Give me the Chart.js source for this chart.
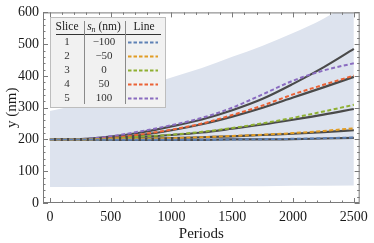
<!DOCTYPE html>
<html><head><meta charset="utf-8">
<script src="https://cdn.jsdelivr.net/npm/chart.js@4.4.1/dist/chart.umd.min.js"></script>
<style>html,body{margin:0;padding:0;background:#fff}canvas{display:block}</style>
</head><body>
<canvas id="c" width="374" height="243"></canvas>
<script>
// ---- data ----
const periods = [0,250,500,750,1000,1250,1500,1750,2000,2250,2500];
const bandLower = [50,50,51,51,52,52,53,53,54,54,55];
const bandUpper = [290,310,335,365,395,425,460,495,535,580,640];
const slices = [1,2,3,4,5];
const snValues = [-100,-50,0,50,100];
const sim1 = [200,200,199,199,199,199,200,201,202,204,206];
const sim2 = [200,200,201,202,204,207,211,215,220,227,235];
const sim3 = [200,200,202,209,215,224,236,251,268,288,309];
const sim4 = [200,200,204,216,231,250,277,307,342,372,401];
const sim5 = [200,201,210,226,245,268,300,342,385,417,440];
const theo1 = [200,200,199,199,199,199,200,200,201,203,205];
const theo2 = [200,200,201,202,204,207,210,214,218,223,229];
const theo3 = [200,200,202,208,214,222,234,247,262,278,296];
const theo4 = [200,200,204,214,229,248,272,300,332,364,397];
const theo5 = [200,201,209,222,241,263,292,328,375,427,485];
const xTicks = [0,500,1000,1500,2000,2500];
const yTicks = [0,100,200,300,400,500,600];
const xMinor = 100, yMinor = 20;

const sims = [sim1,sim2,sim3,sim4,sim5];
const theos = [theo1,theo2,theo3,theo4,theo5];
const colors = ['#5E81B5','#E19C24','#8FB032','#EB6235','#8A6CC0'];
const pts = arr => periods.map((p,i)=>({x:p,y:arr[i]}));

const datasets = [
  {data:pts(bandLower), borderWidth:0, pointRadius:0, fill:false, order:20},
  {data:pts(bandUpper), borderWidth:0, pointRadius:0, fill:'-1', backgroundColor:'rgb(221,227,238)', cubicInterpolationMode:'monotone', order:20}
];
theos.forEach(t=>datasets.push({data:pts(t), borderColor:'#4a4a4a', borderWidth:2.2, pointRadius:0, fill:false, cubicInterpolationMode:'monotone', order:10}));
sims.forEach((s,i)=>datasets.push({data:pts(s), borderColor:colors[i], borderWidth:2, borderDash:[4,2.5], pointRadius:0, fill:false, cubicInterpolationMode:'monotone', order:1}));

const serif = "'Liberation Serif', 'DejaVu Serif', serif";

const framePlugin = {
  id:'frame',
  afterDatasetsDraw(chart){
    const {ctx, chartArea:a, scales:{x,y}} = chart;
    ctx.save();
    ctx.strokeStyle = '#7a7a7a';
    ctx.lineWidth = 1;
    ctx.strokeRect(a.left+0.5, a.top+0.5, a.right-a.left-1, a.bottom-a.top-1);
    ctx.beginPath();
    for (let v=0; v<=2500; v+=xMinor){
      const px = Math.round(x.getPixelForValue(v))+0.5;
      const L = v%500===0 ? 5 : 2.5;
      ctx.moveTo(px,a.bottom); ctx.lineTo(px,a.bottom-L);
      ctx.moveTo(px,a.top); ctx.lineTo(px,a.top+L);
    }
    for (let v=0; v<=600; v+=yMinor){
      const py = Math.round(y.getPixelForValue(v))+0.5;
      const L = v%100===0 ? 5 : 2.5;
      ctx.moveTo(a.left,py); ctx.lineTo(a.left+L,py);
      ctx.moveTo(a.right,py); ctx.lineTo(a.right-L,py);
    }
    ctx.stroke();
    ctx.restore();
  },
  afterDraw(chart){
    const ctx = chart.ctx;
    ctx.save();
    ctx.fillStyle = '#f1f1f1';
    ctx.fillRect(50,17,116,91);
    ctx.strokeStyle = '#bdbdbd';
    ctx.lineWidth = 1;
    ctx.strokeRect(50.5,17.5,115,90);
    ctx.fillStyle = '#222';
    ctx.textBaseline = 'middle';
    ctx.textAlign = 'center';
    ctx.font = "11.5px " + serif;
    ctx.fillText('Slice', 67, 27);
    ctx.fillText('Line', 144, 27);
    ctx.textAlign = 'left';
    const fS = "italic 11.5px " + serif, fSub = "italic 8px " + serif, fN = "11.5px " + serif;
    ctx.font = fS; const w1 = ctx.measureText('s').width;
    ctx.font = fSub; const w2 = ctx.measureText('n').width;
    ctx.font = fN; const w3 = ctx.measureText(' (nm)').width;
    let sx = 104 - (w1+w2+w3)/2;
    ctx.font = fS; ctx.fillText('s', sx, 27); sx += w1;
    ctx.font = fSub; ctx.fillText('n', sx, 30); sx += w2;
    ctx.font = fN; ctx.fillText(' (nm)', sx, 27);
    ctx.strokeStyle = '#333';
    ctx.beginPath(); ctx.moveTo(56,34.5); ctx.lineTo(161,34.5); ctx.stroke();
    ctx.strokeStyle = '#8a8a8a';
    ctx.beginPath();
    ctx.moveTo(84.5,21); ctx.lineTo(84.5,104);
    ctx.moveTo(125.5,21); ctx.lineTo(125.5,104);
    ctx.stroke();
    ctx.textAlign = 'center';
    ctx.font = "11px " + serif;
    slices.forEach((s,i)=>{
      const ry = 42 + 14*i;
      ctx.fillStyle = '#333';
      ctx.fillText(String(s), 67, ry);
      const v = snValues[i];
      ctx.fillText(v<0 ? '\u2212'+Math.abs(v) : String(v), 104, ry);
      ctx.strokeStyle = colors[i];
      ctx.lineWidth = 1.8;
      ctx.setLineDash([3.5,2]);
      ctx.beginPath(); ctx.moveTo(128,ry+0.5); ctx.lineTo(158,ry+0.5); ctx.stroke();
      ctx.setLineDash([]);
    });
    ctx.restore();
  }
};

new Chart(document.getElementById('c'), {
  type:'line',
  data:{datasets},
  options:{
    responsive:false, animation:false, devicePixelRatio:1,
    layout:{padding:{top:6,right:9,left:0,bottom:0}},
    plugins:{legend:{display:false}, tooltip:{enabled:false}},
    elements:{point:{radius:0}},
    scales:{
      x:{type:'linear', min:-57, max:2548,
        afterBuildTicks:s=>{s.ticks = xTicks.map(v=>({value:v}));},
        afterFit:s=>{s.height = 40;},
        grid:{display:false, drawTicks:false}, border:{display:false},
        ticks:{padding:6, autoSkip:false, maxRotation:0, color:'#1a1a1a', font:{family:serif, size:14}, callback:v=>String(v)},
        title:{display:true, text:'Periods', color:'#1a1a1a', font:{family:serif, size:15}, padding:{top:0,bottom:0}}
      },
      y:{type:'linear', min:0, max:600,
        afterBuildTicks:s=>{s.ticks = yTicks.map(v=>({value:v}));},
        afterFit:s=>{s.width = 43;},
        grid:{display:false, drawTicks:false}, border:{display:false},
        ticks:{padding:4, autoSkip:false, color:'#1a1a1a', font:{family:serif, size:14}, callback:v=>String(v)},
        title:{display:true, text:'y (nm)', color:'#1a1a1a', font:{family:serif, size:15}, padding:{top:3,bottom:0}}
      }
    }
  },
  plugins:[framePlugin]
});
</script>
</body></html>
